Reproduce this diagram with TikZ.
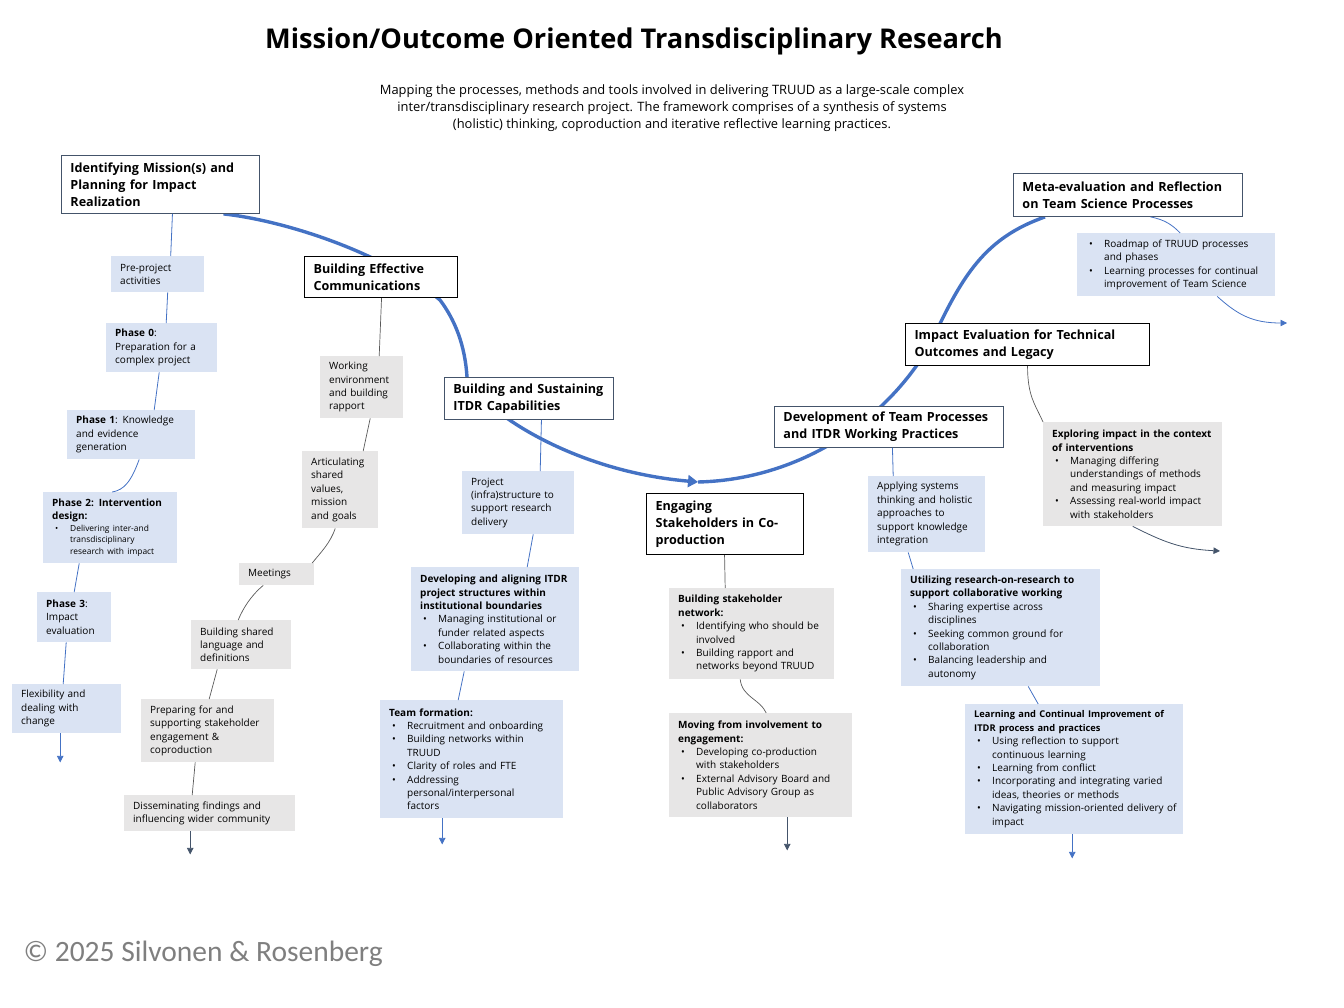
\documentclass[tikz,border=0pt]{standalone}
\usepackage{fontspec}
\setmainfont{Open Sans}
\newfontfamily\copyfont{Carlito}
\usetikzlibrary{arrows.meta}
\pgfdeclarelayer{background}
\pgfsetlayers{background,main}
\definecolor{flowblue}{HTML}{4472C4}
\definecolor{boxblue}{HTML}{DAE3F3}
\definecolor{boxgrey}{HTML}{E7E6E6}
\definecolor{slate}{HTML}{44546A}
\definecolor{linkgrey}{HTML}{595959}
\definecolor{copygrey}{HTML}{7F7F7F}
\newcommand\headf{\fontsize{12.6}{17}\selectfont\bfseries}
\newcommand\subf{\fontsize{10}{13.4}\selectfont}
\newcommand\tinyf{\fontsize{8.4}{11.5}\selectfont}
\newcommand\bitem{\hspace*{3pt}\makebox[15pt][l]{\textbullet}}
\newcommand\bcont{\hspace*{18pt}}

\begin{document}
\begin{tikzpicture}[x=1pt,y=-1pt,font=\subf,
  mainbox/.style={draw=black, line width=1.1pt, fill=white, font=\headf, align=left, anchor=north west, inner xsep=9pt, inner ysep=2pt},
  slatebox/.style={mainbox, draw=slate, line width=0.9pt},
  bluebox/.style={fill=boxblue, font=\subf, align=left, anchor=north west, inner xsep=9pt, inner ysep=2pt},
  greybox/.style={bluebox, fill=boxgrey},
  wh/.style 2 args={minimum width=#1pt, minimum height=#2pt, text width=#1pt-18pt},
  flow/.style={draw=flowblue, line width=3.4pt},
  bluelink/.style={draw=flowblue, line width=0.8pt},
  greylink/.style={draw=linkgrey, line width=0.7pt},
  bluearrow/.style={bluelink, -{Triangle[width=6.5pt,length=6.5pt]}},
  greyarrow/.style={draw=slate, line width=0.8pt, -{Triangle[width=6.5pt,length=6.5pt]}}]
\useasboundingbox (0,0) rectangle (1344,1008);

% title and intro
\node[font=\fontsize{27.2}{30}\selectfont\bfseries] (title) at (634,41) {Mission/Outcome Oriented Transdisciplinary Research};
\node[font=\fontsize{12.9}{17}\selectfont, align=center] (intro) at (672,108) {Mapping the processes, methods and tools involved in delivering TRUUD as a large-scale complex\\ inter/transdisciplinary research project. The framework comprises of a synthesis of systems\\ (holistic) thinking, coproduction and iterative reflective learning practices.};

% main stages
\node[slatebox, wh={198}{58}] (mission) at (61,155) {Identifying Mission(s) and\\ Planning for Impact\\ Realization};
\node[mainbox, wh={153}{41}] (comms) at (304,256) {Building Effective\\ Communications};
\node[slatebox, wh={169}{42}] (capab) at (444,377) {Building and Sustaining\\ ITDR Capabilities};
\node[mainbox, wh={157}{61}] (engage) at (646,493) {Engaging\\ Stakeholders in Co-\\ production};
\node[slatebox, wh={229}{41}] (teamproc) at (774,406) {Development of Team Processes\\ and ITDR Working Practices};
\node[mainbox, wh={244}{42}] (impact) at (905,323) {Impact Evaluation for Technical\\ Outcomes and Legacy};
\node[slatebox, wh={229}{43}] (meta) at (1013,173) {Meta-evaluation and Reflection\\ on Team Science Processes};

% flow line
\coordinate (turn) at (698,482);
\begin{pgfonlayer}{background}
\draw[flow, -{Triangle[width=12pt,length=10pt]}] ([xshift=63]mission.south) .. controls (280,220) and (380,250) .. (440,300) .. controls (455,320) and (465,345) .. (467,377) .. controls (472,400) and (560,470) .. (turn);
\draw[flow] (turn) .. controls (790,480) and (880,430) .. (930,345) .. controls (962,275) and (985,238) .. ([xshift=32]meta.south west);
\end{pgfonlayer}

% phases
\node[bluebox, wh={93}{36}] (pre) at (111,256) {Pre-project\\ activities};
\node[bluebox, wh={111}{49}] (ph0) at (106,323) {\textbf{Phase 0}:\\ Preparation for a\\ complex project};
\node[bluebox, wh={128}{49}] (ph1) at (67,410) {\textbf{Phase 1}: Knowledge\\ and evidence\\ generation};
\node[bluebox, wh={134}{71}] (ph2) at (43,492) {\textbf{Phase 2: Intervention}\\ \textbf{design:}\par{\tinyf\bitem Delivering inter-and\\ \bcont transdisciplinary\\ \bcont research with impact\par}};
\node[bluebox, wh={74}{50}] (ph3) at (37,592) {\textbf{Phase 3}:\\ Impact\\ evaluation};
\node[bluebox, wh={109}{49}] (flex) at (12,684) {Flexibility and\\ dealing with\\ change};
\draw[bluelink] ([xshift=12]mission.south) -- ([xshift=13]pre.north);
\draw[bluelink] ([xshift=10]pre.south) -- ([xshift=4.5]ph0.north);
\draw[bluelink] ([xshift=-2.5]ph0.south) -- ([xshift=23]ph1.north);
\draw[bluelink] ([xshift=8]ph1.south) .. controls +(-8,22) and +(12,-2) .. ([xshift=2]ph2.north);
\draw[bluelink] ([xshift=-31]ph2.south) -- ([xshift=0]ph3.north);
\draw[bluelink] ([xshift=-8]ph3.south) -- ([xshift=-3.5]flex.north);
\draw[bluearrow] ([xshift=-6.5]flex.south) -- ++(0,29);

% communications
\node[greybox, wh={83}{62}] (work) at (320,356) {Working\\ environment\\ and building\\ rapport};
\node[greybox, wh={76}{77}] (artic) at (302,451) {Articulating\\ shared\\ values,\\ mission\\ and goals};
\node[greybox, wh={75}{22}] (meet) at (239,563) {Meetings};
\node[greybox, wh={100}{49}] (lang) at (191,620) {Building shared\\ language and\\ definitions};
\node[greybox, wh={133}{63}] (prep) at (141,699) {Preparing for and\\ supporting stakeholder\\ engagement \&\\ coproduction};
\node[greybox, wh={171}{36}] (dissem) at (124,795) {Disseminating findings and\\ influencing wider community};
\draw[greylink] ([xshift=0.5]comms.south) -- ([xshift=17.5]work.north);
\draw[greylink] ([xshift=8.5]work.south) -- ([xshift=23]artic.north);
\draw[greylink] ([xshift=-5]artic.south) .. controls +(-5,15) and +(8,-10) .. ([xshift=35.5]meet.north);
\draw[greylink] ([xshift=-13.5]meet.south) .. controls +(-12,10) and +(5,-12) .. ([xshift=-3]lang.north);
\draw[greylink] ([xshift=-24]lang.south) -- ([xshift=1.5]prep.north);
\draw[greylink] ([xshift=-12.5]prep.south) -- ([xshift=-17.5]dissem.north);
\draw[greyarrow] ([xshift=-19.5]dissem.south) -- ++(0,23);

% capabilities
\node[bluebox, wh={112}{63}] (infra) at (462,471) {Project\\ (infra)structure to\\ support research\\ delivery};
\node[bluebox, wh={168}{104}] (align) at (411,567) {\textbf{Developing and aligning ITDR}\\ \textbf{project structures within}\\ \textbf{institutional boundaries}\\ \bitem Managing institutional or\\ \bcont funder related aspects\\ \bitem Collaborating within the\\ \bcont boundaries of resources};
\node[bluebox, wh={183}{118}] (team) at (380,700) {\textbf{Team formation:}\\ \bitem Recruitment and onboarding\\ \bitem Building networks within\\ \bcont TRUUD\\ \bitem Clarity of roles and FTE\\ \bitem Addressing\\ \bcont personal/interpersonal\\ \bcont factors};
\draw[bluelink] ([xshift=12.5]capab.south) -- ([xshift=22]infra.north);
\draw[bluelink] ([xshift=15]infra.south) -- ([xshift=32]align.north);
\draw[bluelink] ([xshift=-31]align.south) -- ([xshift=-13.5]team.north);
\draw[bluearrow] ([xshift=-29.5]team.south) -- ++(0,26);

% stakeholders
\node[greybox, wh={165}{91}] (network) at (669,588) {\textbf{Building stakeholder}\\ \textbf{network:}\\ \bitem Identifying who should be\\ \bcont involved\\ \bitem Building rapport and\\ \bcont networks beyond TRUUD};
\node[greybox, wh={183}{104}] (involve) at (669,713) {\textbf{Moving from involvement to}\\ \textbf{engagement:}\\ \bitem Developing co-production\\ \bcont with stakeholders\\ \bitem External Advisory Board and\\ \bcont Public Advisory Group as\\ \bcont collaborators};
\draw[greylink] ([xshift=-0.5]engage.south) -- ([xshift=-26.5]network.north);
\draw[greylink] ([xshift=-11.5]network.south) .. controls +(2,18) and +(-6,-14) .. ([xshift=5.5]involve.north);
\draw[greyarrow] ([xshift=26.5]involve.south) -- ++(0,33);

% team processes
\node[bluebox, wh={117}{76}] (systems) at (868,476) {Applying systems\\ thinking and holistic\\ approaches to\\ support knowledge\\ integration};
\node[bluebox, wh={199}{117}] (ronr) at (901,569) {\textbf{Utilizing research-on-research to}\\ \textbf{support collaborative working}\\ \bitem Sharing expertise across\\ \bcont disciplines\\ \bitem Seeking common ground for\\ \bcont collaboration\\ \bitem Balancing leadership and\\ \bcont autonomy};
\node[bluebox, wh={218}{130}] (learn) at (965,704) {{\fontsize{9.3}{13.4}\selectfont\bfseries Learning and Continual Improvement of\\ ITDR process and practices}\\ \bitem Using reflection to support\\ \bcont continuous learning\\ \bitem Learning from conflict\\ \bitem Incorporating and integrating varied\\ \bcont ideas, theories or methods\\ \bitem \mbox{Navigating mission-oriented delivery of}\\ \bcont impact};
\draw[bluelink] ([xshift=3.5]teamproc.south) -- ([xshift=-33.5]systems.north);
\draw[bluelink] ([xshift=-18.5]systems.south) -- ([xshift=-87.5]ronr.north);
\draw[bluelink] ([xshift=27.5]ronr.south) -- ([xshift=-36]learn.north);
\draw[bluearrow] ([xshift=-2]learn.south) -- ++(0,24);

% impact evaluation
\node[greybox, wh={179}{104}] (explore) at (1043,422) {\textbf{Exploring impact in the context}\\ \textbf{of interventions}\\ \bitem Managing differing\\ \bcont understandings of methods\\ \bcont and measuring impact\\ \bitem Assessing real-world impact\\ \bcont with stakeholders};
\coordinate (exploreend) at (1220,551);
\draw[greylink] (impact.south) .. controls +(0,30) and +(-8,-18) .. (explore.north west);
\draw[greyarrow] (explore.south) .. controls +(30,15) and +(-40,-2) .. (exploreend);

% meta-evaluation
\node[bluebox, wh={198}{63}] (roadmap) at (1077,233) {\bitem Roadmap of TRUUD processes\\ \bcont and phases\\ \bitem Learning processes for continual\\ \bcont improvement of Team Science};
\coordinate (metaend) at (1287,323);
\draw[bluelink] ([xshift=22.5]meta.south) .. controls +(15,3) and +(-8,-8) .. ([xshift=4]roadmap.north);
\draw[bluearrow] ([xshift=41]roadmap.south) .. controls +(20,18) and +(-35,0) .. (metaend);

\node[font=\copyfont\fontsize{29.5}{33}\selectfont, text=copygrey, anchor=west] (credit) at (20,954) {© 2025 Silvonen \& Rosenberg};
\end{tikzpicture}
\end{document}
